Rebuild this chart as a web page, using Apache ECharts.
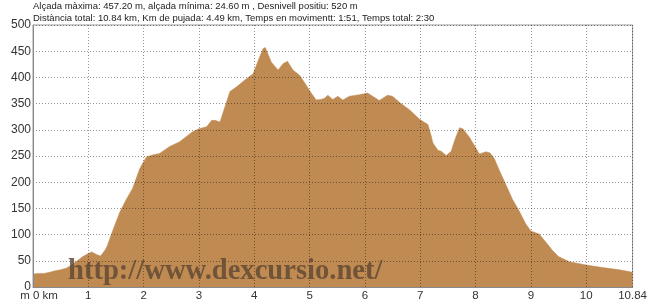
<!DOCTYPE html>
<html>
<head>
<meta charset="utf-8">
<script src="https://cdn.jsdelivr.net/npm/echarts@6/dist/echarts.min.js"></script>
<style>
html,body{margin:0;padding:0;background:#fff;}
#c{width:650px;height:305px;}
</style>
</head>
<body>
<div id="c"></div>
<script>
// Distance along the route (km)
const distanceKm = [0, 0.1, 0.2, 0.3, 0.4, 0.5, 0.6, 0.7, 0.8, 0.9, 1.0, 1.06, 1.15, 1.22, 1.3, 1.34, 1.45, 1.57, 1.69, 1.8, 1.93, 2.05, 2.16, 2.29, 2.47, 2.65, 2.88, 3.0, 3.14, 3.23, 3.29, 3.38, 3.47, 3.56, 3.68, 3.83, 3.98, 4.07, 4.16, 4.2, 4.22, 4.31, 4.43, 4.52, 4.6, 4.7, 4.82, 4.94, 5.03, 5.12, 5.2, 5.27, 5.33, 5.42, 5.51, 5.6, 5.72, 5.9, 6.05, 6.14, 6.26, 6.41, 6.5, 6.63, 6.81, 6.99, 7.14, 7.2, 7.23, 7.32, 7.38, 7.47, 7.56, 7.62, 7.71, 7.77, 7.89, 7.98, 8.07, 8.19, 8.26, 8.34, 8.43, 8.55, 8.67, 8.79, 8.91, 9.0, 9.15, 9.27, 9.39, 9.5, 9.7, 10.0, 10.3, 10.6, 10.84];
// Elevation (m)
const elevationM = [25, 26, 26, 28, 31, 33, 36, 42, 50, 58, 64, 67, 62, 59, 70, 78, 110, 143, 168, 188, 226, 248, 252, 255, 268, 277, 296, 302, 306, 318, 318, 315, 344, 373, 382, 395, 407, 432, 455, 457, 452, 429, 414, 426, 431, 414, 404, 385, 370, 357, 358, 360, 366, 358, 364, 357, 364, 367, 370, 364, 356, 366, 364, 352, 338, 320, 310, 288, 275, 261, 259, 251, 259, 279, 304, 302, 286, 270, 254, 258, 256, 245, 223, 195, 167, 145, 120, 107, 101, 86, 70, 58, 48, 42, 37, 33, 28];

const totalKm = 10.84;
const yMax = 500;
const yStep = 50;
const xStep = 1;

const headerLine1 = 'Alçada màxima: 457.20 m, alçada mínima: 24.60 m , Desnivell positiu: 520 m';
const headerLine2 = 'Distància total: 10.84 km, Km de pujada: 4.49 km, Temps en movimentt: 1:51, Temps total: 2:30';
const watermark = 'http://www.dexcursio.net/';

const chart = echarts.init(document.getElementById('c'), null, {renderer: 'canvas'});
const gridDots = {color: 'rgba(0,0,0,0.42)', type: [1, 2], width: 1};

chart.setOption({
  backgroundColor: '#ffffff',
  animation: false,
  title: [
    {text: headerLine1, left: 33, top: 1, padding: 0,
     textStyle: {fontFamily: 'Liberation Sans, Arial', fontSize: 9.5, fontWeight: 'normal', color: '#222'}},
    {text: headerLine2, left: 33, top: 13, padding: 0,
     textStyle: {fontFamily: 'Liberation Sans, Arial', fontSize: 9.5, fontWeight: 'normal', color: '#222'}}
  ],
  grid: {left: 33, right: 16, top: 25, bottom: 18, show: true, borderColor: '#9a9a9a', borderWidth: 1, backgroundColor: 'transparent'},
  xAxis: {
    type: 'value', min: 0, max: totalKm, interval: xStep, z: 3,
    axisLine: {show: true, lineStyle: {color: '#8a8a8a', width: 1}},
    axisTick: {show: false},
    splitLine: {show: true, lineStyle: gridDots},
    axisLabel: {
      margin: 3, color: '#333', fontFamily: 'Liberation Sans, Arial', fontSize: 11.5,
      formatter: function (v) {
        if (v === 0) return '{a|m 0 km}';
        if (Math.abs(v - totalKm) < 1e-6) return totalKm.toFixed(2);
        return String(v);
      },
      rich: {a: {fontFamily: 'Liberation Sans, Arial', fontSize: 11.5, color: '#333', padding: [0, 0, 0, 12]}}
    }
  },
  yAxis: {
    type: 'value', min: 0, max: yMax, interval: yStep, z: 3,
    axisLine: {show: true, lineStyle: {color: '#8a8a8a', width: 1}},
    axisTick: {show: false},
    splitLine: {show: true, lineStyle: gridDots},
    axisLabel: {margin: 2, color: '#333', fontFamily: 'Liberation Sans, Arial', fontSize: 12,
      verticalAlign: 'middle', padding: [0, 0, 5, 0]}
  },
  series: [{
    type: 'line',
    data: distanceKm.map((d, i) => [d, elevationM[i]]),
    showSymbol: false,
    symbol: 'none',
    lineStyle: {width: 0.5, color: '#c08b53'},
    itemStyle: {color: '#c08b53'},
    areaStyle: {color: '#c08b53', opacity: 1},
    z: 2
  }],
  graphic: [{
    type: 'text', left: 68, top: 257, z: 10,
    style: {text: watermark, font: 'bold 28.6px "Liberation Serif", serif', fill: 'rgba(95,72,50,0.82)'}
  }]
});
</script>
</body>
</html>
